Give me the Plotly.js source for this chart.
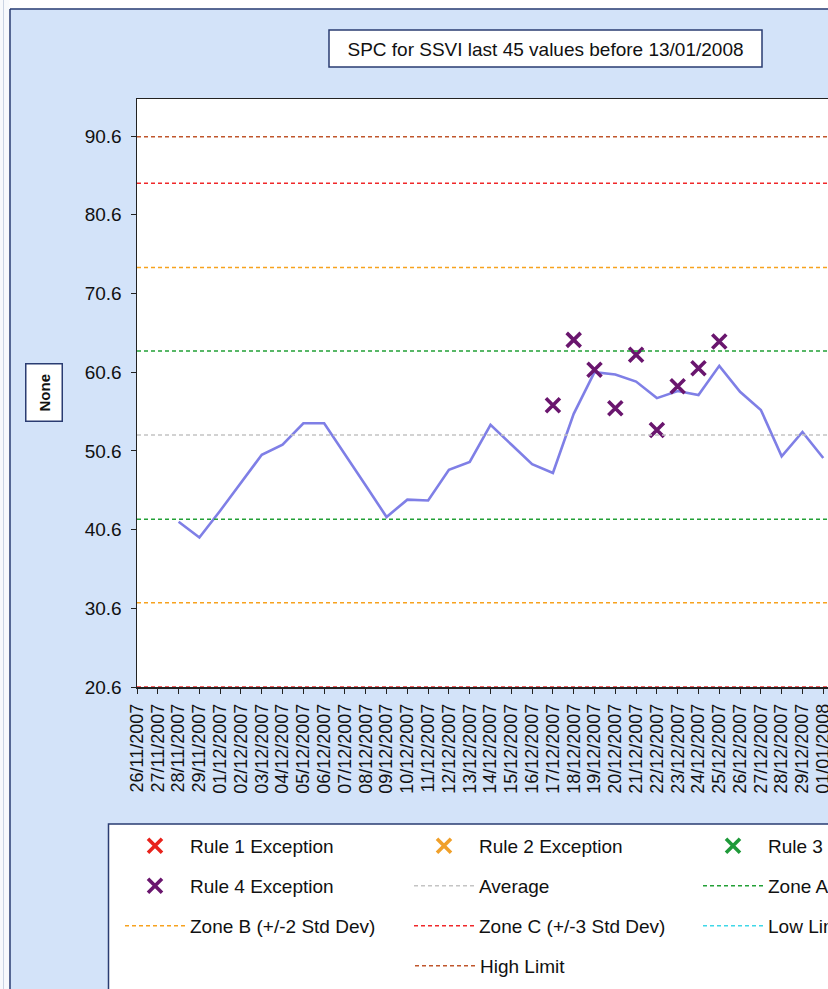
<!DOCTYPE html>
<html>
<head>
<meta charset="utf-8">
<script src="https://cdn.plot.ly/plotly-3.0.1.min.js"></script>
<style>
  html, body { margin: 0; padding: 0; overflow: hidden; background: #ffffff; }
  #chart { width: 1090px; height: 1010px; }
</style>
</head>
<body>
<div id="chart"></div>
<script>
// ---- data (categories visible in the picture) ----
const categories = [
  '26/11/2007','27/11/2007','28/11/2007','29/11/2007',
  '01/12/2007','02/12/2007','03/12/2007','04/12/2007','05/12/2007','06/12/2007',
  '07/12/2007','08/12/2007','09/12/2007','10/12/2007','11/12/2007','12/12/2007',
  '13/12/2007','14/12/2007','15/12/2007','16/12/2007','17/12/2007','18/12/2007',
  '19/12/2007','20/12/2007','21/12/2007','22/12/2007','23/12/2007','24/12/2007',
  '25/12/2007','26/12/2007','27/12/2007','28/12/2007','29/12/2007',
  '01/01/2008'
];
const ssviValues = [
  null, null, 41.6, 39.6, 43.0, 46.5, 50.1, 51.4, 54.1, 54.1,
  50.2, 46.2, 42.2, 44.4, 44.3, 48.2, 49.2, 53.9, 51.4, 48.9,
  47.8, 55.3, 60.6, 60.3, 59.4, 57.3, 58.2, 57.7, 61.4, 58.1,
  55.8, 49.9, 53.0, 49.7
];
const rule4Values = [
  null, null, null, null, null, null, null, null, null, null,
  null, null, null, null, null, null, null, null, null, null,
  56.4, 64.7, 60.9, 56.0, 62.8, 53.25, 58.8, 61.1, 64.5, null,
  null, null, null, null
];
const totalValueCount = 45;   // "last 45 values": the axis spans 45 category slots
const averageValue = 52.6;
const zoneAValues = [63.3, 41.9];
const zoneBValues = [73.9, 31.3];
const zoneCValues = [84.6, 20.6];
const highLimitValue = 90.5;
const yTickValues = [20.6, 30.6, 40.6, 50.6, 60.6, 70.6, 80.6, 90.6];
const legendNames = ['Rule 1 Exception','Rule 2 Exception','Rule 3 Exception','Rule 4 Exception',
  'Average','Zone A (+/-1 Std Dev)','Zone B (+/-2 Std Dev)','Zone C (+/-3 Std Dev)','Low Limit','High Limit'];

// ---- geometry helpers (pixel -> paper) ----
const W = 1090, H = 1010;
const M = { l: 137, r: 38, t: 99, b: H - 687 };
const PW = W - M.l - M.r, PH = H - M.t - M.b;
const px = v => (v - M.l) / PW;
const py = v => (H - M.b - v) / PH;

const FONT = '"Liberation Sans", Arial, sans-serif';
const dashLine = (name, y, color, legend, rank, show) => ({
  type: 'scatter', mode: 'lines', x: [0, totalValueCount - 1], y: [y, y], name: name,
  xaxis: 'x2',
  line: { color: color, width: 1.5, dash: '4px,3px' },
  legend: legend, legendrank: rank, showlegend: show, hoverinfo: 'skip', cliponaxis: false
});
const xMarker = (name, color, legend, rank, yvals) => ({
  type: 'scatter', mode: 'markers', x: categories, y: yvals, name: name,
  marker: { symbol: 'x-thin-open', size: 14, color: color, line: { color: color, width: 3.6 } },
  legend: legend, legendrank: rank, showlegend: true, hoverinfo: 'skip'
});
const emptyY = categories.map(() => null);

const traces = [
  dashLine(legendNames[4], averageValue, '#c4c4c4', 'legend2', 2, true),
  dashLine(legendNames[5], zoneAValues[0], '#22a036', 'legend2', 3, true),
  dashLine(legendNames[5], zoneAValues[1], '#22a036', 'legend2', 3, false),
  dashLine(legendNames[6], zoneBValues[0], '#f7a21e', 'legend3', 1, true),
  dashLine(legendNames[6], zoneBValues[1], '#f7a21e', 'legend3', 1, false),
  dashLine(legendNames[7], zoneCValues[0], '#f0282a', 'legend3', 2, true),
  dashLine(legendNames[7], zoneCValues[1], '#f0282a', 'legend3', 2, false),
  dashLine(legendNames[8], null, '#3fd8e8', 'legend3', 3, true),
  dashLine(legendNames[9], highLimitValue, '#c0562c', 'legend4', 1, true),
  {
    type: 'scatter', mode: 'lines', x: categories, y: ssviValues, name: 'SSVI',
    line: { color: '#7f7fe6', width: 2.6 }, showlegend: false, hoverinfo: 'skip'
  },
  xMarker(legendNames[0], '#e8231c', 'legend', 1, emptyY),
  xMarker(legendNames[1], '#f0a02a', 'legend', 2, emptyY),
  xMarker(legendNames[2], '#1f9a3a', 'legend', 3, emptyY),
  xMarker(legendNames[3], '#6a166e', 'legend2', 1, rule4Values)
];

const legendBase = (xPx, yPx) => ({
  orientation: 'h', entrywidth: 214, entrywidthmode: 'pixels',
  x: px(xPx), xanchor: 'left', y: py(yPx), yanchor: 'middle',
  bgcolor: 'rgba(0,0,0,0)', borderwidth: 0, itemwidth: 60,
  font: { family: FONT, size: 19, color: '#111' }, traceorder: 'normal'
});

const NAVY = '#2a3c72';
const shapes = [
  { type: 'rect', xref: 'paper', yref: 'paper', x0: px(-5), x1: px(W + 5), y0: py(8.5), y1: py(-5),
    fillcolor: '#ffffff', line: { width: 0 }, layer: 'below' },
  { type: 'rect', xref: 'paper', yref: 'paper', x0: px(-5), x1: px(9.5), y0: py(H + 5), y1: py(-5),
    fillcolor: '#f7f9fc', line: { width: 0 }, layer: 'below' },
  { type: 'line', xref: 'paper', yref: 'paper', x0: px(3.5), x1: px(3.5), y0: py(H + 5), y1: py(-5),
    line: { color: '#c9d3e3', width: 1 }, layer: 'below' },
  { type: 'line', xref: 'paper', yref: 'paper', x0: px(10), x1: px(10), y0: py(H + 5), y1: py(9),
    line: { color: NAVY, width: 1.5 }, layer: 'below' },
  { type: 'line', xref: 'paper', yref: 'paper', x0: px(10), x1: px(W + 5), y0: py(9), y1: py(9),
    line: { color: NAVY, width: 1.5 }, layer: 'below' },
  { type: 'rect', xref: 'paper', yref: 'paper', x0: px(329), x1: px(762), y0: py(67), y1: py(30),
    fillcolor: '#ffffff', line: { color: NAVY, width: 1.5 }, layer: 'below' },
  { type: 'rect', xref: 'paper', yref: 'paper', x0: px(108.5), x1: px(982), y0: py(H + 10), y1: py(824),
    fillcolor: '#ffffff', line: { color: NAVY, width: 1.5 }, layer: 'below' }
];

const layout = {
  width: W, height: H,
  margin: M,
  paper_bgcolor: '#d3e3f9',
  plot_bgcolor: '#ffffff',
  font: { family: FONT, size: 19, color: '#111' },
  title: {
    text: 'SPC for SSVI last 45 values before 13/01/2008',
    font: { family: FONT, size: 19, color: '#111' },
    xref: 'paper', x: px(545.5), xanchor: 'center',
    yref: 'container', y: 1 - 49 / H, yanchor: 'middle'
  },
  xaxis: {
    type: 'category', categoryorder: 'array', categoryarray: categories,
    range: [0, totalValueCount - 1],
    tickmode: 'array', tickvals: categories, ticktext: categories,
    tickangle: -90, ticks: 'outside', ticklen: 5, tickcolor: '#222', tickwidth: 1,
    tickfont: { family: FONT, size: 18, color: '#111' }, ticklabelstandoff: 3,
    showline: true, linecolor: '#222', linewidth: 1.5, mirror: true, layer: 'below traces',
    showgrid: false, zeroline: false, fixedrange: true
  },
  xaxis2: {
    type: 'linear', overlaying: 'x', range: [0, totalValueCount - 1],
    visible: false, fixedrange: true
  },
  yaxis: {
    range: [20.6, 95.3],
    tickmode: 'array', tickvals: yTickValues, ticktext: yTickValues.map(v => v.toFixed(1)),
    ticks: 'outside', ticklen: 5, tickcolor: '#222', tickwidth: 1,
    tickfont: { family: FONT, size: 19, color: '#111' }, ticklabelstandoff: 5,
    showline: true, linecolor: '#222', linewidth: 1.5, mirror: true, layer: 'below traces',
    showgrid: false, zeroline: false, fixedrange: true
  },
  showlegend: true,
  legend: legendBase(120, 846),
  legend2: legendBase(120, 886),
  legend3: legendBase(120, 926),
  legend4: legendBase(410, 966),
  shapes: shapes,
  annotations: [{
    text: '<b>None</b>', textangle: -90, showarrow: false,
    xref: 'paper', yref: 'paper', x: px(44), y: py(393), xanchor: 'center', yanchor: 'middle',
    font: { family: FONT, size: 15, color: '#111' },
    bgcolor: '#ffffff', bordercolor: NAVY, borderwidth: 1.5, borderpad: 9
  }]
};

Plotly.newPlot('chart', traces, layout, { staticPlot: true, displayModeBar: false });
</script>
</body>
</html>
